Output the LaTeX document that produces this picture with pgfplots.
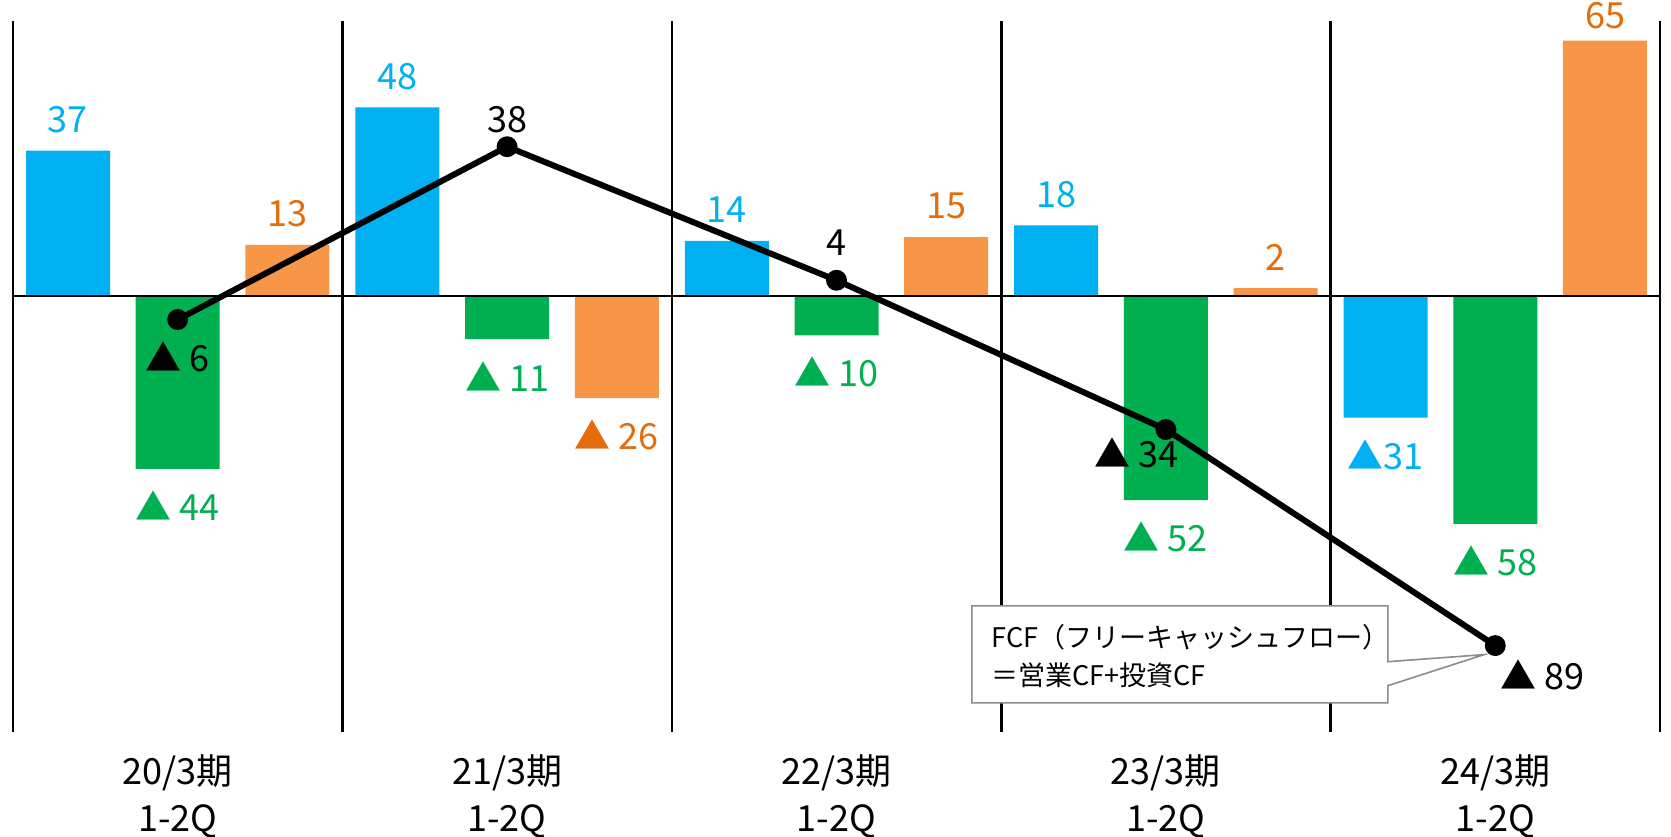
\documentclass[border=0pt]{standalone}
\usepackage{fontspec}
\setmainfont{Noto Sans CJK JP}
\usepackage{pgfplots}
\pgfplotsset{compat=1.18}

\definecolor{cfblue}{HTML}{00B0F0}
\definecolor{cfgreen}{HTML}{00B050}
\definecolor{cforange}{HTML}{F79646}
\definecolor{cforangetxt}{HTML}{E46C0A}
\definecolor{boxgray}{HTML}{8C8C8C}

\begin{document}
\begin{tikzpicture}
\begin{pgfinterruptboundingbox}
\begin{axis}[
  scale only axis, width=823.5pt, height=355.5pt,
  xmin=-0.5, xmax=4.5, ymin=-111, ymax=70,
  clip=false,
  axis line style={draw=none},
  ytick=\empty,
  xtick={0,...,4},
  xticklabels={{20/3期\\1-2Q},{21/3期\\1-2Q},{22/3期\\1-2Q},{23/3期\\1-2Q},{24/3期\\1-2Q}},
  major tick length=0pt,
  xticklabel style={align=center, font=\fontsize{18}{23.5}\selectfont, inner sep=0pt, anchor=north, yshift=-11pt},
  point meta=explicit symbolic,
  bar width=0.255,
  every node near coord/.append style={font=\fontsize{18}{20}\selectfont, inner sep=0pt, anchor=center},
  visualization depends on={y \as \rawy},
  lbl/.style={nodes near coords, nodes near coords style={text=#1,
    yshift={ifthenelse(\rawy>60,12.5,ifthenelse(\rawy>0,15.5,-18.5))}}},
]
% group separators
\foreach \s in {-0.5,0.5,1.5,2.5,3.5,4.5}{
  \edef\tmp{\noexpand\draw[black, line width=1.3pt] (axis cs:\s,-111) -- (axis cs:\s,70);}\tmp
}

% operating CF
\addplot[ybar, bar shift=-0.333, fill=cfblue, draw=none, lbl=cfblue,
  every node near coord/.append style={xshift=-54.9pt}]
  coordinates {(0,37) [37] (1,48) [48] (2,14) [14] (3,18) [18] (4,-31) [▲31]};
% investing CF
\addplot[ybar, bar shift=0, fill=cfgreen, draw=none, lbl=cfgreen]
  coordinates {(0,-44) [▲ 44] (1,-11) [▲ 11] (2,-10) [▲ 10] (3,-52) [▲ 52] (4,-58) [▲ 58]};
% financing CF
\addplot[ybar, bar shift=0.333, fill=cforange, draw=none, lbl=cforangetxt,
  every node near coord/.append style={xshift=54.9pt}]
  coordinates {(0,13) [13] (1,-26) [▲ 26] (2,15) [15] (3,2) [2] (4,65) [65]};

% zero line
\draw[black, line width=1.3pt] (axis cs:-0.5,0) -- (axis cs:4.5,0);

% callout
\draw[boxgray, line width=0.8pt, fill=white]
  (axis cs:2.411,-78.9) -- (axis cs:3.674,-78.9) -- (axis cs:3.674,-93.1)
  -- (axis cs:3.966,-91.3) -- (axis cs:3.674,-99.2) -- (axis cs:3.674,-103.6)
  -- (axis cs:2.411,-103.6) -- cycle;
\node[anchor=west, align=left, inner sep=0pt, font=\fontsize{13.5}{19}\selectfont]
  at (axis cs:2.469,-91.6) {FCF（フリーキャッシュフロー）\\＝営業CF+投資CF};

% FCF
\addplot[black, line width=3pt, mark=*, mark size=3.7pt] coordinates {(0,-6) (1,38) (2,4) (3,-34) (4,-89)};

\node[font=\fontsize{18}{20}\selectfont] at (axis cs:0,-15.5) {▲ 6};
\node[font=\fontsize{18}{20}\selectfont] at (axis cs:1,45) {38};
\node[font=\fontsize{18}{20}\selectfont] at (axis cs:2,13.5) {4};
\node[font=\fontsize{18}{20}\selectfont] at (axis cs:2.912,-40) {▲ 34};
\node[font=\fontsize{18}{20}\selectfont] at (axis cs:4.142,-96.4) {▲ 89};
\end{axis}
\end{pgfinterruptboundingbox}
\path (-6.5pt,-52pt) rectangle (829pt,366pt);
\end{tikzpicture}
\end{document}
